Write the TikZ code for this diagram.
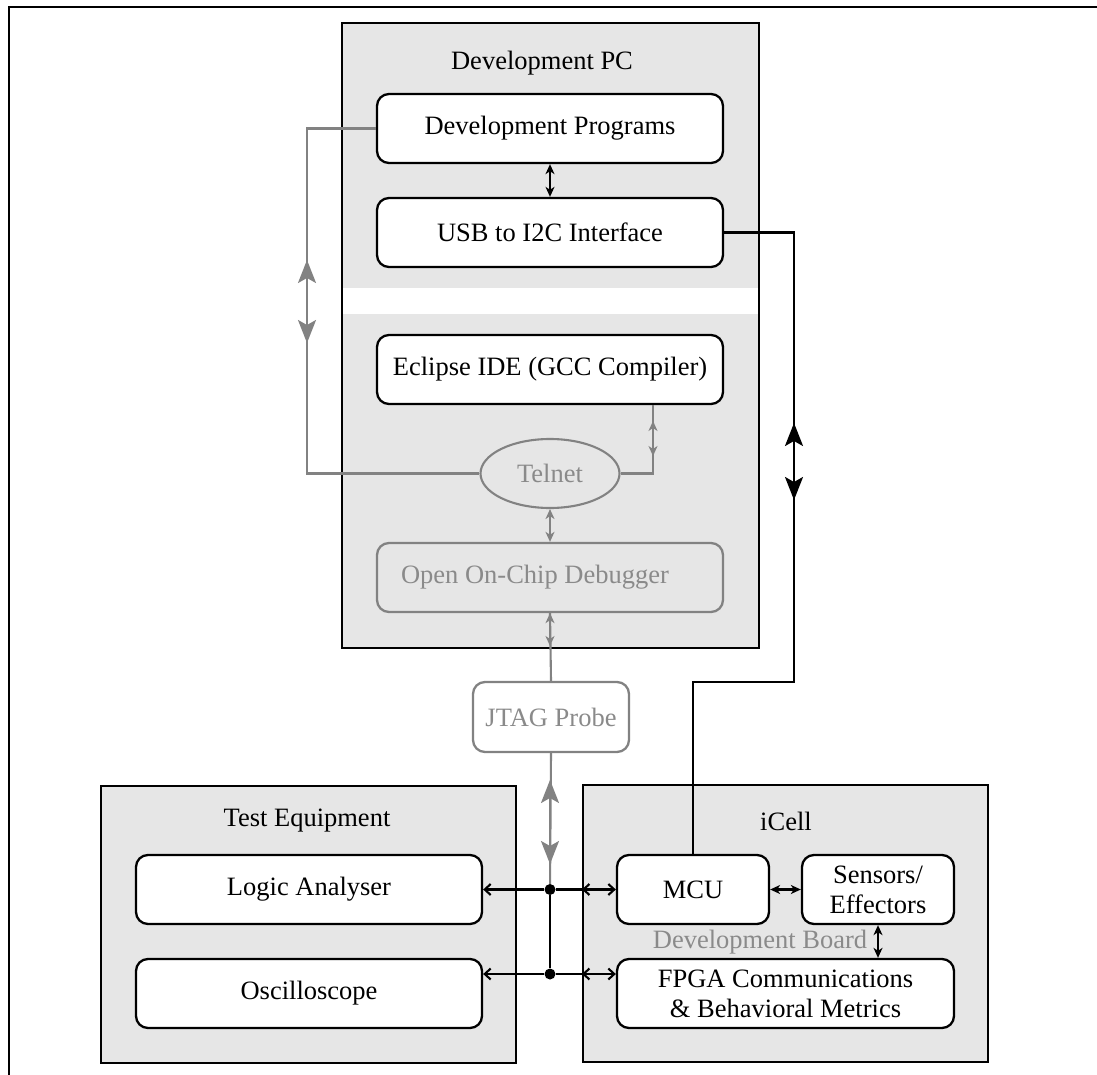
\documentclass[tikz,border=0pt]{standalone}
\usepackage{fontspec}
\setmainfont{Liberation Serif}
\usetikzlibrary{arrows.meta,shapes.geometric,calc}
\definecolor{boxfill}{HTML}{E6E6E6}
\definecolor{linegray}{HTML}{828282}
\definecolor{textgray}{HTML}{8A8A8A}
\begin{document}
\begin{tikzpicture}[x=1pt,y=-1pt,
  txt/.style={font=\fontsize{26.5pt}{30pt}\selectfont},
  container/.style={fill=boxfill,draw=black,line width=2.2pt,inner sep=0pt},
  unit/.style={txt,draw=black,fill=white,line width=2.3pt,rounded corners=12pt,
    minimum width=346pt,minimum height=69pt,inner sep=0pt,align=center},
  unitgray/.style={unit,draw=linegray,text=textgray},
  conn/.style={draw=black,line width=2.1pt},
  gconn/.style={draw=linegray,line width=2.1pt},
  small/.style={{Stealth[length=10pt,width=9pt,inset=3pt]}-{Stealth[length=10pt,width=9pt,inset=3pt]}},
  barb/.style={-{Straight Barb[length=6pt,width=11pt]}},
  barbs/.style={{Straight Barb[length=6pt,width=11pt]}-{Straight Barb[length=6pt,width=11pt]}},
  big/.style={{Stealth[length=23pt,width=18pt,inset=5pt]}-{Stealth[length=23pt,width=18pt,inset=5pt]}},
  dot/.style={circle,fill=black,inner sep=0pt,minimum size=11pt}
]
\useasboundingbox (0,0) rectangle (1097,1075);

% outer frame (open towards the right and bottom edges)
\draw[line width=2.4pt] (9,1080) -- (9,7) -- (1100,7);

% ---------------- Development PC ----------------
\node[container,draw=none,minimum width=415pt,minimum height=623pt] (devpc) at (550.5,335.5) {};
\fill[white] (343,288) rectangle (758,314);
\draw[line width=2.2pt] (devpc.north west) rectangle (devpc.south east);
\node[txt] (devpctitle) at (542,63) {Development PC};

\node[unit] (devprog) at (550,128.5) {Development Programs};
\node[unit] (usb) at (550,232.5) {USB to I2C Interface};
\node[unit] (eclipse) at (550,369.5) {Eclipse IDE (GCC Compiler)};
\node[ellipse,draw=linegray,fill=boxfill,line width=2.1pt,txt,text=textgray,
  minimum width=139pt,minimum height=69pt,inner sep=0pt] (telnet) at (550,473.5) {Telnet};
\node[unitgray,fill=boxfill] (oocd) at (550,577.5) {};
\node[txt,text=textgray] (oocdtext) at (535,577.5) {Open On-Chip Debugger};

% ---------------- JTAG probe ----------------
\node[unitgray,minimum width=156pt,minimum height=70pt] (jtag) at (551,717) {JTAG Probe};

% ---------------- Test Equipment ----------------
\node[container,minimum width=415pt,minimum height=277pt] (testeq) at (308.5,924.5) {};
\node[txt] (testtitle) at (307,821) {Test Equipment};
\node[unit] (logic) at (309,889.5) {Logic Analyser};
\node[unit] (osc) at (309,993.5) {Oscilloscope};

% ---------------- iCell ----------------
\node[container,minimum width=405pt,minimum height=277pt] (icell) at (785.5,923.5) {};
\node[txt] (icelltitle) at (786,821) {iCell};
\node[unit,minimum width=152pt] (mcu) at (693,889.5) {MCU};
\node[unit,minimum width=152pt] (sens) at (878,889.5) {Sensors/\\Effectors};
\node[unit,minimum width=337pt] (fpga) at (785.5,993.5) {FPGA Communications\\\& Behavioral Metrics};
\node[txt,text=textgray] (board) at (760,942) {Development Board};

% ---------------- connectors ----------------
\draw[conn,small] (devprog.south) -- (usb.north);

% I2C link from the interface down to the MCU
\coordinate (r1) at (794,682);
\coordinate (ra) at (794,423);
\coordinate (rb) at (794,500);
\draw[conn] (usb.east) -| (r1) -| (mcu.north);
\draw[conn,big] (ra) -- (rb);

% Telnet links
\coordinate (l1) at (307,473.5);
\coordinate (la) at (307,260);
\coordinate (lb) at (307,343);
\draw[gconn] (devprog.west) -| (l1) -- (telnet.west);
\draw[gconn,big] (la) -- (lb);

\coordinate (t1) at (653,473.5);
\coordinate (ta) at (653,421);
\coordinate (tb) at (653,456);
\draw[gconn] (telnet.east) -- (t1) -- (t1 |- eclipse.south);
\draw[gconn,small] (ta) -- (tb);

\draw[gconn,small] (telnet.south) -- (oocd.north);

% JTAG chain
\coordinate (ja) at (550,646);
\draw[gconn] (oocd.south) -- (jtag.north);
\draw[gconn,small] (oocd.south) -- (ja);

\node[dot] (j1) at (550,889.5) {};
\node[dot] (j2) at (550,974) {};
\coordinate (jb) at (550,780);
\coordinate (jc) at (550,864);
\draw[gconn] (jtag.south) -- (j1);
\draw[gconn,big] (jb) -- (jc);

% bus to the instruments and the board
\draw[conn] (j1) -- (j2);
\draw[conn,barb] (j1) -- (logic.east);
\draw[conn,barb] (j2) -- (j2 -| osc.east);
\draw[conn] (j1) -- (icell.west |- j1);
\draw[conn,barbs] (icell.west |- j1) -- (mcu.west);
\draw[conn] (j2) -- (icell.west |- j2);
\draw[conn,barbs] (icell.west |- j2) -- (j2 -| fpga.west);

\draw[conn,small] (mcu.east) -- (sens.west);
\draw[conn,small] (sens.south) -- (sens.south |- fpga.north);
\end{tikzpicture}
\end{document}
